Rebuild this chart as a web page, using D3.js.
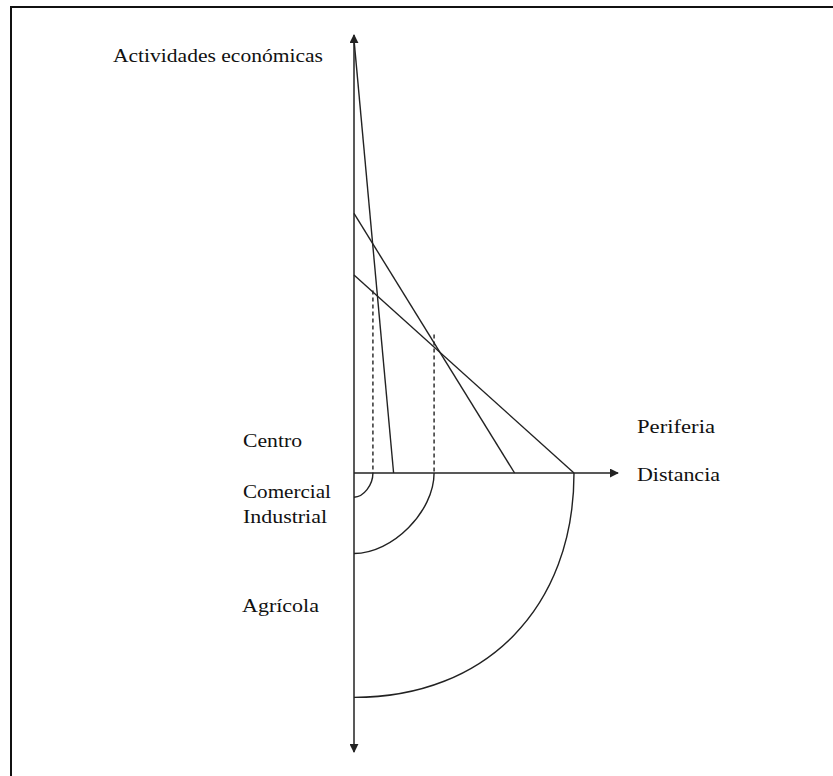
<!DOCTYPE html>
<html>
<head>
<meta charset="utf-8">
<script src="https://cdn.jsdelivr.net/npm/d3@7"></script>
<style>
  html, body { margin: 0; padding: 0; background: #fff; overflow: hidden; }
  svg { display: block; }
  text { font-family: "Liberation Serif", "Times New Roman", serif; fill: #111; }
</style>
</head>
<body>
<svg id="chart" width="833" height="776"></svg>
<script>
// actividades y su curva de renta (renta en el centro, distancia donde llega a 0)
var actividades = ["Comercial", "Industrial", "Agrícola"];
var rentaCentro = [19.7, 11.8, 9.0];
var alcance = [1.8, 7.3, 10.0];

// limites entre usos (lineas punteadas) y su altura
var limites = [0.86, 3.64];
var alturaLimite = [8.3, 6.3];

// anillos dibujados bajo el eje (radio horizontal / vertical)
var anilloX = [0.86, 3.64, 10.0];
var anilloY = [1.1, 3.66, 10.2];

var svg = d3.select("#chart");

var x = d3.scaleLinear().domain([0, 12]).range([354, 618]);
var y = d3.scaleLinear().domain([0, 20]).range([473, 33]);
var yAbajo = d3.scaleLinear().domain([0, 12]).range([473, 737]);

var ink = "#222";

// marco
svg.append("path")
  .attr("d", "M11,776 L11,7 L833,7")
  .attr("fill", "none")
  .attr("stroke", "#111")
  .attr("stroke-width", 2);

// flechas
svg.append("defs").append("marker")
  .attr("id", "flecha")
  .attr("viewBox", "0 0 10 10")
  .attr("refX", 9).attr("refY", 5)
  .attr("markerWidth", 9).attr("markerHeight", 9)
  .attr("markerUnits", "userSpaceOnUse")
  .attr("orient", "auto")
  .append("path")
  .attr("d", "M0,0 L10,5 L0,10 z")
  .attr("fill", ink);

var x0 = x(0), y0 = y(0);

// ejes
svg.append("line")
  .attr("x1", x0).attr("y1", y0).attr("x2", x0).attr("y2", 35)
  .attr("stroke", ink).attr("stroke-width", 1.5)
  .attr("marker-end", "url(#flecha)");
svg.append("line")
  .attr("x1", x0).attr("y1", y0).attr("x2", x0).attr("y2", 752)
  .attr("stroke", ink).attr("stroke-width", 1.5)
  .attr("marker-end", "url(#flecha)");
svg.append("line")
  .attr("x1", x0).attr("y1", y0).attr("x2", 618).attr("y2", y0)
  .attr("stroke", ink).attr("stroke-width", 1.5)
  .attr("marker-end", "url(#flecha)");

// curvas de renta
svg.selectAll(".renta")
  .data(actividades)
  .enter().append("line")
  .attr("class", "renta")
  .attr("x1", x0)
  .attr("y1", (d, i) => y(rentaCentro[i]))
  .attr("x2", (d, i) => x(alcance[i]))
  .attr("y2", y0)
  .attr("stroke", ink)
  .attr("stroke-width", 1.4);

// limites punteados
svg.selectAll(".limite")
  .data(limites)
  .enter().append("line")
  .attr("class", "limite")
  .attr("x1", d => x(d)).attr("x2", d => x(d))
  .attr("y1", (d, i) => y(alturaLimite[i]))
  .attr("y2", y0)
  .attr("stroke", ink)
  .attr("stroke-width", 1.4)
  .attr("stroke-dasharray", "4,3");

// anillos (cuartos de elipse)
var curvatura = [0.5, 0.48, 0.6];
svg.selectAll(".anillo")
  .data(anilloX)
  .enter().append("path")
  .attr("class", "anillo")
  .attr("d", function(d, i) {
    var rx = x(d) - x0, ry = yAbajo(anilloY[i]) - y0;
    var k = curvatura[i];
    var p = d3.path();
    p.moveTo(x0 + rx, y0);
    p.bezierCurveTo(x0 + rx, y0 + k * ry, x0 + k * rx, y0 + ry, x0, y0 + ry);
    return p.toString();
  })
  .attr("fill", "none")
  .attr("stroke", ink)
  .attr("stroke-width", 1.4);

// textos
var etiquetas = [
  { t: "Actividades económicas", x: 113, y: 62, w: 210 },
  { t: "Centro", x: 243, y: 447, w: 59 },
  { t: "Comercial", x: 243, y: 498, w: 88 },
  { t: "Industrial", x: 243, y: 523, w: 84 },
  { t: "Agrícola", x: 242, y: 612, w: 77 },
  { t: "Periferia", x: 637, y: 433, w: 78 },
  { t: "Distancia", x: 637, y: 481, w: 83 }
];

svg.selectAll(".etiqueta")
  .data(etiquetas)
  .enter().append("text")
  .attr("class", "etiqueta")
  .attr("x", d => d.x)
  .attr("y", d => d.y)
  .attr("font-size", 18)
  .attr("textLength", d => d.w)
  .attr("lengthAdjust", "spacingAndGlyphs")
  .text(d => d.t);
</script>
</body>
</html>
